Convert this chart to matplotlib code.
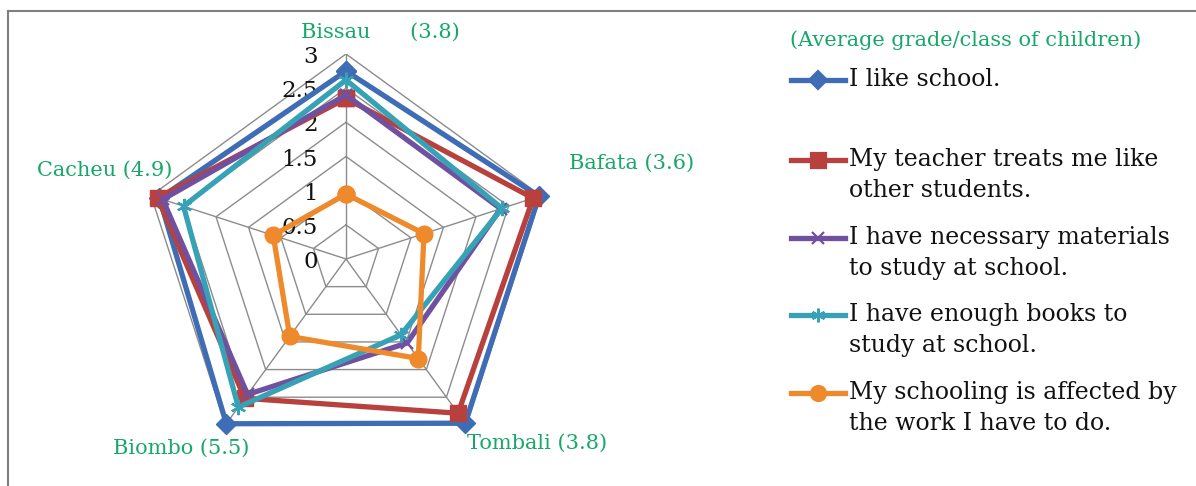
import numpy as np
import matplotlib
matplotlib.use("Agg")
import matplotlib.pyplot as plt
from matplotlib.lines import Line2D
from matplotlib.transforms import offset_copy

categories = ["Bissau", "Bafata", "Tombali", "Biombo", "Cacheu"]
cat_labels = ["Bissau      (3.8)", "Bafata (3.6)", "Tombali (3.8)", "Biombo (5.5)", "Cacheu (4.9)"]
series_names = [
    "I like school.",
    "My teacher treats me like\nother students.",
    "I have necessary materials\nto study at school.",
    "I have enough books to\nstudy at school.",
    "My schooling is affected by\nthe work I have to do.",
]
like_school = [2.75, 2.97, 2.97, 2.98, 2.87]
teacher_treats = [2.35, 2.88, 2.79, 2.52, 2.9]
materials = [2.4, 2.38, 1.52, 2.45, 2.82]
books = [2.62, 2.4, 1.37, 2.68, 2.5]
work_affects = [0.95, 1.2, 1.8, 1.4, 1.12]
tick_values = [0, 0.5, 1, 1.5, 2, 2.5, 3]
tick_labels = ["0", "0.5", "1", "1.5", "2", "2.5", "3"]
legend_title = "(Average grade/class of children)"

W, H = 1196, 486
fig = plt.figure(figsize=(W / 100, H / 100), dpi=100)
serif = "DejaVu Serif"
green = "#16A86A"

def fx(px):
    return px / W

def fy(py):
    return 1 - py / H

# radar axes: centre (346,259) px, radius 205 px
cx, cy, R = 346, 259, 205
ax = fig.add_axes([fx(cx - R), fy(cy + R), 2 * R / W, 2 * R / H], projection="polar")
ax.set_theta_offset(np.pi / 2)
ax.set_theta_direction(-1)
ax.set_ylim(0, 3)
ax.grid(False)
ax.spines["polar"].set_visible(False)
ax.set_xticks([])
ax.set_yticks([])
ax.patch.set_alpha(0)

n = len(categories)
angles = np.linspace(0, 2 * np.pi, n, endpoint=False)
closed = np.concatenate([angles, angles[:1]])

# pentagon grid
for v in tick_values[1:]:
    ax.plot(closed, [v] * (n + 1), color="#8c8c8c", lw=1.0, zorder=1)
for a in angles:
    ax.plot([a, a], [0, 3], color="#8c8c8c", lw=1.0, zorder=1)

# tick labels
tr = offset_copy(ax.transData, fig=fig, x=-28, y=-3, units="dots")
for v, s in zip(tick_values, tick_labels):
    ax.text(0, v, s, transform=tr, ha="right", va="center", fontsize=16.5,
            family=serif, color="#111111", clip_on=False, zorder=2)

colors = ["#3E6DB5", "#B8413E", "#7150A0", "#37A2B6", "#EE8A2C"]
markers = ["D", "s", "x", (6, 2, 0), "o"]
msizes = [10, 12, 9, 11, 12]
data = [like_school, teacher_treats, materials, books, work_affects]
for i, (vals, c, m, ms) in enumerate(zip(data, colors, markers, msizes)):
    v = list(vals) + [vals[0]]
    ax.plot(closed, v, color=c, lw=3.8, marker=m, markersize=ms,
            markeredgewidth=1.6 if m in ("x",) or isinstance(m, tuple) else 1,
            markeredgecolor=c, markerfacecolor=c, zorder=3 + i, clip_on=False,
            solid_joinstyle="miter")

# category labels (pixel centres)
label_pos = [(380, 32), (632, 163), (537, 443), (181, 448), (105, 170)]
for s, (px, py) in zip(cat_labels, label_pos):
    fig.text(fx(px), fy(py), s, ha="center", va="center", fontsize=15,
             family=serif, color=green)

# legend
fig.text(fx(790), fy(40), legend_title, ha="left", va="center", fontsize=15,
         family=serif, color=green)
entry_y = [80, 160, 238, 315, 393]
for name, c, m, ms, ey in zip(series_names, colors, markers, msizes, entry_y):
    fig.add_artist(Line2D([fx(791), fx(845)], [fy(ey), fy(ey)], color=c, lw=3.8,
                          transform=fig.transFigure))
    fig.add_artist(Line2D([fx(818)], [fy(ey)], color=c, marker=m,
                          markersize=ms * 0.9, markeredgecolor=c,
                          markeredgewidth=1.6, lw=0, transform=fig.transFigure))
    fig.text(fx(849), fy(ey - 12), name, ha="left", va="top", fontsize=17,
             family=serif, color="#111111", linespacing=1.45)

# frame (top and left edges)
fig.add_artist(Line2D([fx(8), fx(1196)], [fy(11), fy(11)], color="#7f7f7f", lw=1.5,
                      transform=fig.transFigure))
fig.add_artist(Line2D([fx(8), fx(8)], [fy(11), fy(486)], color="#7f7f7f", lw=1.5,
                      transform=fig.transFigure))

fig.savefig("out.png", dpi=100)
